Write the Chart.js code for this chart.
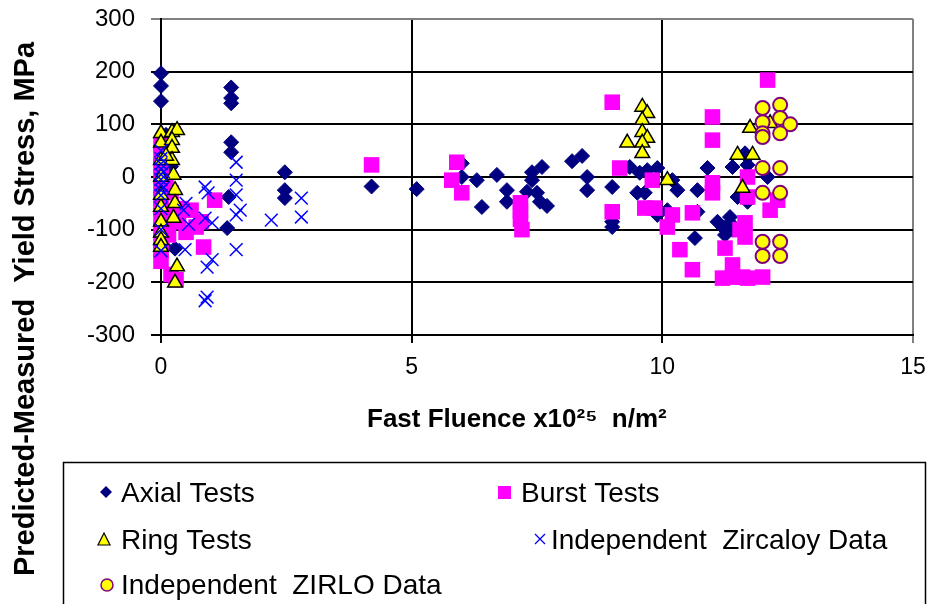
<!DOCTYPE html>
<html lang="en">
<head>
<meta charset="UTF-8">
<title>Predicted-Measured Yield Stress</title>
<script src="https://cdn.jsdelivr.net/npm/chart.js@4.4.0/dist/chart.umd.min.js"></script>
<style>
  body { margin: 0; background: #fff; }
</style>
</head>
<body>
<canvas id="myChart" width="930" height="604"></canvas>
<script>
// values (x = fast fluence, y = predicted - measured, MPa)
const axialX = [0, 0, 0, 0, 0, 0, 0, 0, 0, 0.05, 0.28, 0.1, 0.2,
                1.4, 1.4, 1.4, 1.4, 1.4, 1.35, 1.32,
                2.47, 2.47, 2.47, 4.2, 5.1,
                6.0, 6.0, 6.3, 6.7, 6.9, 6.9, 6.4, 7.4, 7.6, 7.4, 7.3, 7.5, 7.56, 7.7, 8.2, 8.4, 8.5, 8.5,
                9.0, 9.0, 9.0, 9.35, 9.55, 9.5, 9.65, 9.7, 9.9, 10.2, 10.3, 9.9, 10.1, 10.65, 10.7, 10.9, 10.7,
                11.1, 11.25, 11.35, 11.4, 11.7, 11.5, 11.7, 12.1, 11.2, 11.35, 11.65, 11.7, 11.4]
const axialY = [197, 173, 144, 60, 30, 0, -30, -60, -100, -130, -136, 80, 20,
                170, 150, 140, 66, 47, -38, -97,
                9, -25, -40, -18, -23,
                26, 0, -6, 4, -25, -47, -57, 9, 19, -6, -28, -30, -47, -55, 30, 40, 0, -25,
                -19, -85, -95, 19, 8, -30, -30, 13, 17, -6, -25, -72, -63, -116, -25, 17, -66,
                -85, -110, -87, 19, 38, -38, -47, 0, -95, -76, 45, 23, -100]

const burstX = [0, 0, 0, 0, 0, 0, 0, 0, 0, 0, 0, 0, 0.1, 0.1, 0.1, 0.15, 0.2, 0.25, 0.3, 0.2,
                0.35, 0.4, 0.5, 0.6, 0.7, 0.8, 0.85, 1.07,
                4.2, 5.9, 5.8, 6.0, 7.17, 7.17, 7.17, 7.2,
                9.0, 9.15, 9.0, 9.8, 9.65, 9.85, 10.1, 10.2, 10.35, 10.6, 10.6,
                12.1, 11.0, 11.0, 11.0, 11.0, 11.7, 11.7, 11.65, 11.65, 12.15, 12.3,
                11.25, 11.2, 11.4, 11.4, 11.7, 12.0, 11.6, 11.55]
const burstY = [60, 40, 20, 0, -20, -40, -60, -80, -100, -120, -140, -160, 50, -10, -70, -110, -30, -85, -195, -185,
                -80, -60, -105, -63, -95, -85, -133, -44,
                23, 28, -6, -30, -49, -65, -80, -100,
                142, 17, -66, -6, -59, -59, -95, -72, -138, -176, -68,
                184, 114, 70, -11, -30, 0, -38, -87, -114, -63, -44,
                -135, -192, -167, -190, -192, -190, -190, -100]

const ringX = [0, 0, 0, 0.22, 0.32, 0.22, 0.22, 0.22, 0.25, 0.28, 0.28, 0.25, 0, 0, 0, 0, 0, 0.32, 0.28, 0, 0, 0.1,
               9.6, 9.7, 9.6, 9.6, 9.7, 9.6, 9.3, 9.6, 10.1,
               11.75, 11.5, 11.8, 11.6, 12.15]
const ringY = [83, 65, 32, 85, 89, 70, 55, 32, 4, -25, -50, -78, -57, -85, -106, -120, -133, -170, -201, -34, 0, 40,
               133, 121, 108, 85, 74, 65, 65, 45, -6,
               93, 42, 42, -21, 102]

const zircX = [0, 0, 0, 0, 0, 0, 0, 0, 0, 0, 0, 0, 0.05, 0.05,
               0.5, 0.45, 0.48, 0.88, 0.94, 0.88, 1.02, 0.92, 1.02, 0.92, 0.88, 0.55,
               1.5, 1.5, 1.5, 1.58, 1.5, 1.5, 2.2, 2.8, 2.8]
const zircY = [50, 35, 25, 15, 5, -5, -15, -25, -35, -60, -100, -140, 10, -20,
               -50, -63, -138, -19, -30, -78, -87, -171, -157, -228, -235, -90,
               28, -6, -34, -63, -72, -138, -82, -40, -76]

const zirloX = [12.0, 12.35, 12.0, 12.35, 12.55, 12.0, 12.35, 12.0, 12.0, 12.35, 12.0, 12.35, 12.0, 12.35, 12.0, 12.35]
const zirloY = [131, 137, 104, 112, 100, 83, 83, 76, 17, 17, -30, -30, -123, -123, -150, -150]

const xTicks = [0, 5, 10, 15]
const yTicks = [-300, -200, -100, 0, 100, 200, 300]

const FONT = 'Arial, "Liberation Sans", sans-serif'

function pts(xs, ys) {
    return xs.map((x, i) => ({ x: x, y: ys[i] }))
}

// y title spans the whole picture height, legend sits in a box under the plot
const extras = {
    id: 'extras',
    afterDraw(chart) {
        const ctx = chart.ctx
        ctx.save()
        ctx.fillStyle = '#000'
        ctx.font = 'bold 29px ' + FONT
        ctx.textAlign = 'center'
        ctx.textBaseline = 'middle'
        ctx.translate(26, 309)
        ctx.rotate(-Math.PI / 2)
        ctx.fillText('Predicted-Measured  Yield Stress, MPa', 0, 0)
        ctx.restore()

        // x title, set a little left of the plot centre as in the reference
        ctx.save()
        ctx.fillStyle = '#000'
        ctx.textBaseline = 'middle'
        ctx.font = 'bold 26px ' + FONT
        ctx.fillText('Fast Fluence x10²⁵  n/m²', 367, 420)
        ctx.restore()

        ctx.save()
        ctx.strokeStyle = '#000'
        ctx.lineWidth = 1.5
        ctx.strokeRect(63.5, 462.5, 862, 200)
        ctx.font = '28px ' + FONT
        ctx.textBaseline = 'middle'
        ctx.fillStyle = '#000'
        ctx.fillText('Axial Tests', 121, 494)
        ctx.fillText('Burst Tests', 521, 494)
        ctx.fillText('Ring Tests', 121, 541)
        ctx.fillText('Independent  Zircaloy Data', 551, 541)
        ctx.fillText('Independent  ZIRLO Data', 121, 586)

        // markers
        ctx.fillStyle = '#000080'
        ctx.beginPath()
        ctx.moveTo(106, 486); ctx.lineTo(112, 492); ctx.lineTo(106, 498); ctx.lineTo(100, 492)
        ctx.closePath(); ctx.fill()

        ctx.fillStyle = '#FF00FF'
        ctx.fillRect(498, 486, 13, 13)

        ctx.fillStyle = '#FFFF00'
        ctx.strokeStyle = '#000'
        ctx.lineWidth = 1.2
        ctx.beginPath()
        ctx.moveTo(104, 533); ctx.lineTo(110, 545); ctx.lineTo(98, 545)
        ctx.closePath(); ctx.fill(); ctx.stroke()

        ctx.strokeStyle = '#0000FF'
        ctx.lineWidth = 1.3
        ctx.beginPath()
        ctx.moveTo(535, 534); ctx.lineTo(545, 544)
        ctx.moveTo(545, 534); ctx.lineTo(535, 544)
        ctx.stroke()

        ctx.fillStyle = '#FFFF00'
        ctx.strokeStyle = '#800080'
        ctx.lineWidth = 1.5
        ctx.beginPath()
        ctx.arc(107, 585, 6, 0, Math.PI * 2)
        ctx.fill(); ctx.stroke()
        ctx.restore()
    }
}

const ctx = document.getElementById('myChart').getContext('2d')
const myChart = new Chart(ctx, {
    type: 'scatter',
    data: {
        datasets: [
            {
                label: 'Axial Tests', data: pts(axialX, axialY), order: 5, clip: false,
                pointStyle: 'rectRot', pointRadius: 7.5,
                backgroundColor: '#000080', borderColor: '#000080', borderWidth: 1
            },
            {
                label: 'Burst Tests', data: pts(burstX, burstY), order: 4, clip: false,
                pointStyle: 'rect', pointRadius: 11,
                backgroundColor: '#FF00FF', borderColor: '#FF00FF', borderWidth: 0
            },
            {
                label: 'Ring Tests', data: pts(ringX, ringY), order: 3, clip: false,
                pointStyle: 'triangle', pointRadius: 8.5,
                backgroundColor: '#FFFF00', borderColor: '#000', borderWidth: 1.5
            },
            {
                label: 'Independent Zircaloy Data', data: pts(zircX, zircY), order: 2, clip: false,
                pointStyle: 'crossRot', pointRadius: 9,
                backgroundColor: '#0000FF', borderColor: '#0000FF', borderWidth: 1.5
            },
            {
                label: 'Independent ZIRLO Data', data: pts(zirloX, zirloY), order: 1, clip: false,
                pointStyle: 'circle', pointRadius: 7,
                backgroundColor: '#FFFF00', borderColor: '#800080', borderWidth: 2
            }
        ]
    },
    options: {
        responsive: false,
        animation: false,
        events: [],
        layout: { autoPadding: false, padding: { left: 61, top: 19, right: 17, bottom: 173 } },
        plugins: {
            legend: { display: false },
            tooltip: { enabled: false }
        },
        scales: {
            x: {
                type: 'linear', min: 0, max: 15,
                afterBuildTicks: s => { s.ticks = xTicks.map(v => ({ value: v })) },
                afterFit: s => { s.height = 96; s.paddingLeft = 0; s.paddingRight = 0 },
                ticks: { color: '#000', font: { family: FONT, size: 23 }, padding: 11, maxRotation: 0 },
                grid: {
                    color: c => (c.tick && c.tick.value === 15) ? '#808080' : '#000',
                    lineWidth: 2, tickLength: 8
                },
                border: { color: '#000', width: 2 }
            },
            y: {
                min: -300, max: 300,
                afterBuildTicks: s => { s.ticks = yTicks.map(v => ({ value: v })) },
                afterFit: s => { s.width = 100; s.paddingTop = 0; s.paddingBottom = 0 },
                ticks: { color: '#000', font: { family: FONT, size: 24 }, padding: 16 },
                grid: {
                    color: c => (c.tick && c.tick.value === 300) ? '#808080' : '#000',
                    lineWidth: 2, tickLength: 10
                },
                border: { color: '#000', width: 2 }
            }
        }
    },
    plugins: [extras]
})
</script>
</body>
</html>
